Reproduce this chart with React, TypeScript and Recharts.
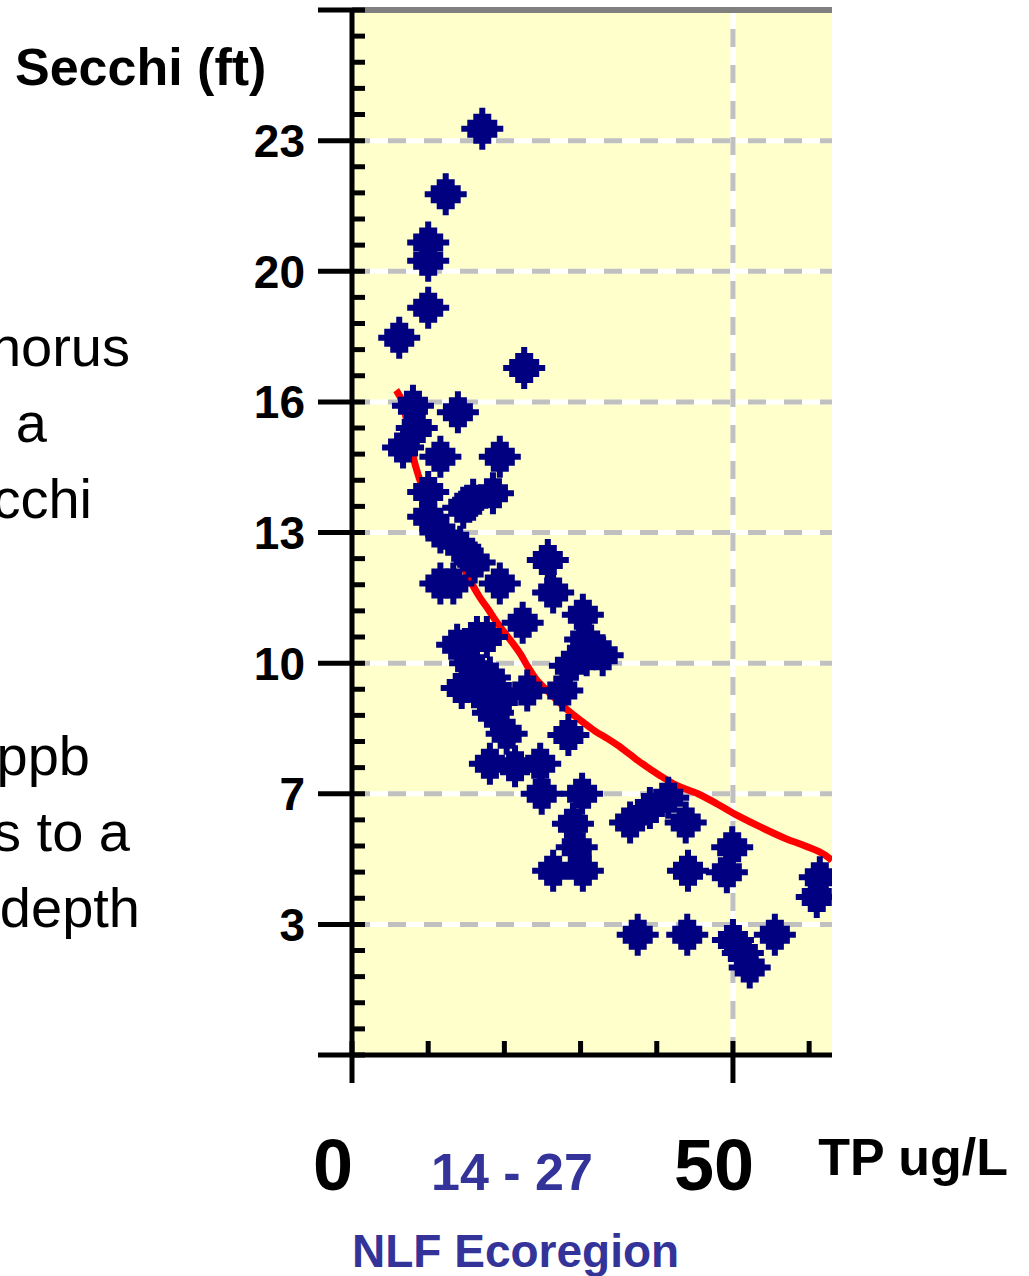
import React from 'react'
import {
  ComposedChart, XAxis, YAxis, Scatter, Line, ReferenceLine, ReferenceArea,
} from 'recharts'

// lake samples: total phosphorus (ug/L) vs Secchi depth (m, axis labelled in ft)
const TP = [
  17.1, 12.3, 10.0, 10.0, 10.0, 6.2, 22.6, 8.0, 13.9, 8.5,
  6.7, 11.6, 19.4, 10.0, 15.9, 18.5, 10.0, 14.6, 11.6, 14.2,
  25.7, 16.1, 11.6, 13.3, 19.4, 26.4, 22.4, 30.3, 30.6, 16.4,
  13.8, 17.7, 30.8, 28.6, 32.9, 18.1, 14.4, 19.8, 16.8, 27.6,
  18.5, 20.3, 28.4, 18.1, 21.4, 24.7, 24.9, 30.2, 29.0, 29.5,
  26.4, 30.3, 36.5, 39.1, 41.5, 43.8, 49.9, 49.2, 44.1, 61.4,
  61.0, 37.5, 44.0, 50.0, 51.3, 52.2, 55.5, 23.0, 15.5,
]
const SECCHI_M = [
  7.09, 6.59, 6.22, 6.08, 5.72, 5.49, 5.26, 4.97, 4.92, 4.80,
  4.65, 4.58, 4.58, 4.31, 4.25, 4.30, 4.12, 4.19, 4.00, 3.89,
  3.79, 3.77, 3.61, 3.61, 3.61, 3.54, 3.31, 3.37, 3.18, 3.20,
  3.14, 3.20, 3.06, 2.98, 3.06, 2.89, 2.81, 2.74, 2.77, 2.79,
  2.62, 2.46, 2.45, 2.23, 2.21, 2.23, 2.00, 2.00, 1.77, 1.59,
  1.41, 1.41, 1.78, 1.89, 1.97, 1.78, 1.59, 1.40, 1.41, 1.36,
  1.21, 0.92, 0.92, 0.88, 0.78, 0.67, 0.92, 2.79, 3.00,
]

// red fitted curve
const FIT_TP = [
  5.8, 6.7, 7.4, 8.0, 8.8, 9.8, 10.9, 11.8, 12.7, 13.5,
  14.3, 15.1, 15.9, 16.7, 17.9, 18.8, 19.8, 21.0, 22.1, 23.0,
  24.0, 25.6, 27.2, 28.7, 30.5, 31.9, 33.6, 34.9, 36.5, 38.1,
  40.4, 42.4, 45.4, 48.0, 50.7, 53.8, 56.8, 59.5, 62.1, 63.0,
]
const FIT_M = [
  5.09, 4.98, 4.79, 4.59, 4.42, 4.27, 4.17, 4.04, 3.95, 3.86,
  3.77, 3.68, 3.59, 3.51, 3.41, 3.33, 3.25, 3.16, 3.07, 2.98,
  2.89, 2.79, 2.70, 2.62, 2.54, 2.48, 2.42, 2.37, 2.30, 2.23,
  2.14, 2.07, 2.00, 1.92, 1.83, 1.74, 1.66, 1.60, 1.53, 1.49,
]

const Y_LABEL_M = [1, 2, 3, 4, 5, 6, 7]
const Y_LABEL_FT = ['3', '7', '10', '13', '16', '20', '23']
const X_TICKS = [0, 10, 20, 30, 40, 50, 60]
const X_LABELS: Record<number, string> = { 0: '0', 50: '50' }
const GRID_TP = [50]

const Y_TICKS = Array.from({ length: 41 }, (_, i) => Math.round(i * 2) / 10)

const points = TP.map((tp, i) => ({ tp, m: SECCHI_M[i] }))
const fit = FIT_TP.map((tp, i) => ({ tp, m: FIT_M[i] }))

const SANS = 'Liberation Sans, Arial, sans-serif'
const NAVY = '#000080'
const BLUE_TXT = '#333399'

function Diamond(props: any) {
  const { cx, cy } = props
  if (cx == null || cy == null) return null
  const h = [3, 9, 15, 21]
  const d =
    `M${cx - h[0]},${cy - 21} H${cx + h[0]} V${cy - 15} H${cx + h[1]} V${cy - 9} H${cx + h[2]} V${cy - 3} H${cx + h[3]}` +
    ` V${cy + 3} H${cx + h[2]} V${cy + 9} H${cx + h[1]} V${cy + 15} H${cx + h[0]} V${cy + 21}` +
    ` H${cx - h[0]} V${cy + 15} H${cx - h[1]} V${cy + 9} H${cx - h[2]} V${cy + 3} H${cx - h[3]}` +
    ` V${cy - 3} H${cx - h[2]} V${cy - 9} H${cx - h[1]} V${cy - 15} H${cx - h[0]} Z`
  return <path d={d} fill={NAVY} />
}

function YTick(props: any) {
  const { x, y, payload } = props
  const v = payload.value
  const major = Math.abs(v - Math.round(v)) < 1e-6
  const idx = Y_LABEL_M.indexOf(Math.round(v))
  return (
    <g>
      <line x1={major ? x - 34 : x} x2={x + 13} y1={y} y2={y} stroke="#000" strokeWidth={5} />
      {major && idx >= 0 && (
        <text x={x - 47} y={y} dy="0.36em" textAnchor="end" fontFamily={SANS}
          fontWeight="bold" fontSize={46} fill="#000">
          {Y_LABEL_FT[idx]}
        </text>
      )}
    </g>
  )
}

function XTick(props: any) {
  const { x, y, payload } = props
  const label = X_LABELS[payload.value]
  const major = label !== undefined
  return (
    <g>
      <line x1={x} x2={x} y1={y - 14} y2={major ? y + 28 : y} stroke="#000" strokeWidth={5} />
      {major && (
        <text x={x - 19} y={y + 135} textAnchor="middle" fontFamily={SANS}
          fontWeight="bold" fontSize={72} fill="#000">
          {label}
        </text>
      )}
    </g>
  )
}

export default function App() {
  return (
    <div style={{ position: 'absolute', left: 0, top: 0, width: 1029, height: 1276, background: '#fff' }}>
      <ComposedChart
        width={1029}
        height={1276}
        margin={{ top: 10, right: 197, bottom: 0, left: 0 }}
      >
        <XAxis
          type="number" dataKey="tp" domain={[0, 63]} ticks={X_TICKS} interval={0}
          height={221} tickSize={0} tickMargin={0} allowDataOverflow
          axisLine={{ stroke: '#000', strokeWidth: 5 }} tickLine={false} tick={<XTick />}
        />
        <YAxis
          type="number" dataKey="m" domain={[0, 8]} ticks={Y_TICKS} interval={0}
          width={352} tickSize={0} tickMargin={0} allowDataOverflow
          axisLine={{ stroke: '#000', strokeWidth: 5 }} tickLine={false} tick={<YTick />}
        />
        <ReferenceArea x1={0} x2={63} y1={0} y2={8} fill="#FFFFCC" fillOpacity={1} stroke="none" />
        {Y_LABEL_M.map((m) => (
          <ReferenceLine key={`hw${m}`} y={m} stroke="#fff" strokeWidth={5} />
        ))}
        {Y_LABEL_M.map((m) => (
          <ReferenceLine key={`hg${m}`} y={m} stroke="#C0C0C0" strokeWidth={5} strokeDasharray="18 18" />
        ))}
        {GRID_TP.map((t) => (
          <ReferenceLine key={`vw${t}`} x={t} stroke="#fff" strokeWidth={5} />
        ))}
        {GRID_TP.map((t) => (
          <ReferenceLine key={`vg${t}`} x={t} stroke="#C0C0C0" strokeWidth={5} strokeDasharray="18 18" />
        ))}
        <ReferenceLine y={8} stroke="#808080" strokeWidth={6} />
        <Scatter data={points} fill={NAVY} shape={<Diamond />} isAnimationActive={false} />
        <Line
          data={fit} dataKey="m" stroke="#FF0000" strokeWidth={7} dot={false}
          type="monotone" isAnimationActive={false}
        />
      </ComposedChart>

      <svg width={1029} height={1276} style={{ position: 'absolute', left: 0, top: 0, pointerEvents: 'none' }}>
        <g fontFamily={SANS} fill="#000">
          <text x={15} y={85} fontSize={52} fontWeight="bold">Secchi (ft)</text>
          <text x={1008} y={1175} fontSize={52} fontWeight="bold" textAnchor="end">TP ug/L</text>
        </g>
        <g fontFamily={SANS} fill={BLUE_TXT} fontWeight="bold">
          <text x={512} y={1190} fontSize={52} textAnchor="middle">14 - 27</text>
          <text x={352} y={1267} fontSize={46}>NLF Ecoregion</text>
        </g>
        <g fontFamily={SANS} fill="#000" fontSize={56} textAnchor="end">
          <text x={130} y={366}>phosphorus</text>
          <text x={47} y={442}>to a</text>
          <text x={92} y={518}>Secchi</text>
          <text x={90} y={775}>ppb</text>
          <text x={130} y={851}>corresponds to a</text>
          <text x={140} y={927}>depth</text>
        </g>
      </svg>
    </div>
  )
}
